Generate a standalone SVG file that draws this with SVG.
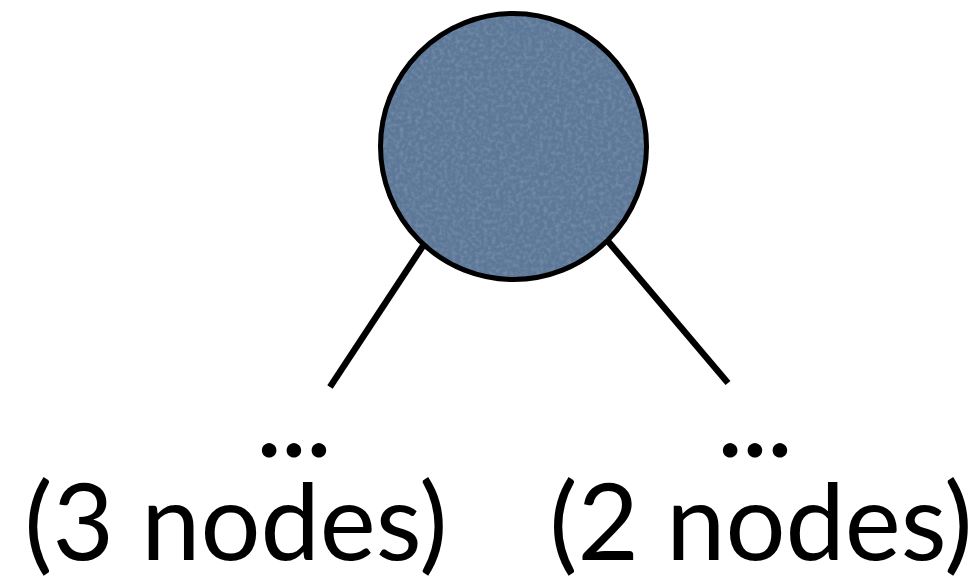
<svg xmlns="http://www.w3.org/2000/svg" width="976" height="586" viewBox="0 0 976 586">
  <style>
    .edge { stroke: #000; stroke-width: 6.5; stroke-linecap: butt; fill: none; }
    .node-fill { fill: #5b7797; }
    .node-ring { fill: none; stroke: #000; stroke-width: 5; }
    .label { font-family: Lato, "Open Sans", "Liberation Sans", sans-serif; font-size: 106px; fill: #000; text-anchor: middle; }
    .dots { font-size: 96px; font-weight: bold; letter-spacing: 2px; }
  </style>
  <defs>
    <!-- faint fabric-like grain on the node fill -->
    <filter id="grain" x="0" y="0" width="100%" height="100%">
      <feTurbulence type="fractalNoise" baseFrequency="0.25" numOctaves="2" seed="4" result="noise"/>
      <feColorMatrix in="noise" type="matrix" values="0 0 0 0 0.44  0 0 0 0 0.56  0 0 0 0 0.70  0 0 0 0.45 -0.18" result="tint"/>
      <feComposite in="tint" in2="SourceGraphic" operator="in" result="grainIn"/>
      <feMerge>
        <feMergeNode in="SourceGraphic"/>
        <feMergeNode in="grainIn"/>
      </feMerge>
    </filter>
  </defs>
  <rect width="976" height="586" fill="#fff"/>
  <g id="connectors">
    <line class="edge" x1="330" y1="387" x2="440" y2="220"/>
    <line class="edge" x1="728" y1="383" x2="590" y2="220"/>
  </g>
  <g id="root">
    <circle class="node-fill" cx="513.5" cy="146.5" r="133" filter="url(#grain)"/>
    <circle class="node-ring" cx="513.5" cy="146.5" r="133"/>
  </g>
  <g id="left-subtree">
    <text class="label"><tspan class="dots" x="295" y="457">...</tspan><tspan x="236" y="560">(3 nodes)</tspan></text>
  </g>
  <g id="right-subtree">
    <text class="label"><tspan class="dots" x="756" y="457">...</tspan><tspan x="761" y="560">(2 nodes)</tspan></text>
  </g>
</svg>
